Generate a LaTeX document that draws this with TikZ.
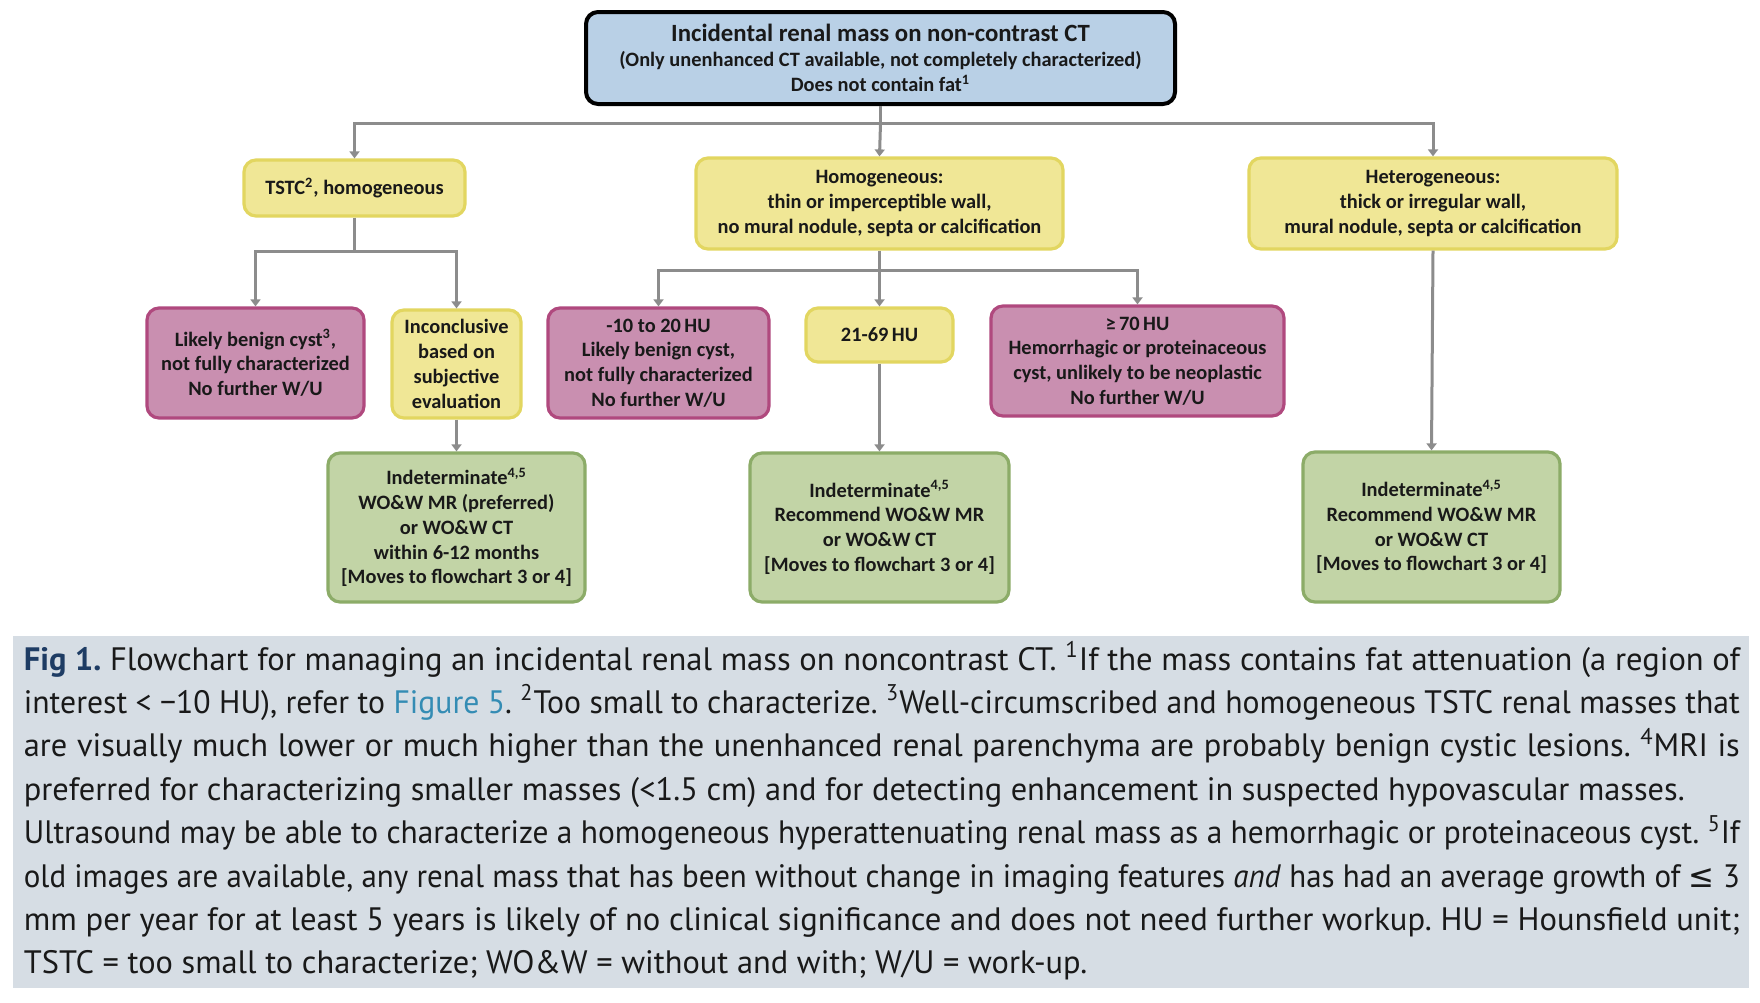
\documentclass[tikz,border=0pt]{standalone}
\usepackage{fontspec}
\usepackage{graphicx}
\setmainfont{Carlito}
\newfontfamily\capfont{PT Sans}
\newfontfamily\symfont{DejaVu Sans}
\usetikzlibrary{arrows.meta}
\definecolor{yfill}{RGB}{240,231,150}
\definecolor{ydraw}{RGB}{226,214,96}
\definecolor{pfill}{RGB}{201,143,176}
\definecolor{pdraw}{RGB}{176,73,126}
\definecolor{gfill}{RGB}{194,212,166}
\definecolor{gdraw}{RGB}{140,172,104}
\definecolor{bfill}{RGB}{185,208,230}
\definecolor{lgrey}{RGB}{140,140,140}
\definecolor{capbg}{RGB}{214,221,228}
\definecolor{navy}{RGB}{30,60,100}
\definecolor{linkblue}{RGB}{52,140,180}
\definecolor{txt}{RGB}{25,25,25}
\newcommand{\capline}[1]{%
  \setbox0\hbox{#1}%
  \ifdim\wd0>850pt
    \pgfmathsetmacro\capr{858pt/\wd0}\scalebox{\capr}[1]{\box0}%
  \else
    \makebox[858pt][s]{#1}%
  \fi}
\tikzset{
  sz/.style 2 args={minimum width=#1*0.5pt, minimum height=#2*0.5pt},
  box/.style={rounded corners=6pt, line width=1.6pt, align=center, text=txt, inner sep=0pt,
    font=\bfseries\fontsize{10.2}{12.4}\selectfont},
  ybox/.style={box, fill=yfill, draw=ydraw},
  pbox/.style={box, fill=pfill, draw=pdraw},
  gbox/.style={box, fill=gfill, draw=gdraw},
  topbox/.style={box, fill=bfill, draw=black, line width=2pt},
  conn/.style={draw=lgrey, line width=1.5pt},
  arr/.style={conn, -{Triangle[width=5pt,length=3.5pt]}},
  capl/.style={anchor=base west, inner sep=0pt, text=txt, font=\capfont\fontsize{16.2}{21.7}\selectfont\frenchspacing},
}
\begin{document}
\begin{tikzpicture}[x=0.5pt, y=-0.5pt]
\useasboundingbox[fill=white] (0,0) rectangle (1760,1002);
% caption background
\fill[capbg] (13,636) rectangle (1749,988);

\node[topbox, sz={589}{92}] (top) at (880.5,58)
  {{\fontsize{12.4}{12.4}\selectfont Incidental renal mass on non-contrast CT}\\
   (Only unenhanced CT available, not completely characterized)\\
   Does not contain fat\textsuperscript{1}};
\node[ybox, sz={221}{56}] (tstc) at (354.5,188) {TSTC\textsuperscript{2}, homogeneous};
\node[ybox, sz={367}{91}] (homog) at (879.5,203.5)
  {Homogeneous:\\thin or imperceptible wall,\\no mural nodule, septa or calcification};
\node[ybox, sz={368}{91}] (hetero) at (1433,203.5)
  {Heterogeneous:\\thick or irregular wall,\\mural nodule, septa or calcification};
\node[pbox, sz={217}{110}] (likely) at (255.5,363)
  {Likely benign cyst\textsuperscript{3},\\not fully characterized\\No further W/U};
\node[ybox, sz={129}{108}] (inconc) at (456.5,364)
  {Inconclusive\\based on\\subjective\\evaluation};
\node[pbox, sz={221}{110}] (m10) at (658.5,363)
  {-10 to 20\,HU\\Likely benign cyst,\\not fully characterized\\No further W/U};
\node[ybox, sz={147}{54}] (h2169) at (879.5,335) {21-69\,HU};
\node[pbox, sz={293}{110}] (g70) at (1137.5,361)
  {≥\,70\,HU\\Hemorrhagic or proteinaceous\\cyst, unlikely to be neoplastic\\No further W/U};
\node[gbox, sz={257}{149}] (ind1) at (456.5,527.5)
  {Indeterminate\textsuperscript{4,5}\\WO\&W MR (preferred)\\or WO\&W CT\\within 6-12 months\\{[}Moves to flowchart 3 or 4{]}};
\node[gbox, sz={259}{149}] (ind2) at (879.5,527.5)
  {Indeterminate\textsuperscript{4,5}\\Recommend WO\&W MR\\or WO\&W CT\\{[}Moves to flowchart 3 or 4{]}};
\node[gbox, sz={257}{150}] (ind3) at (1431.5,527)
  {Indeterminate\textsuperscript{4,5}\\Recommend WO\&W MR\\or WO\&W CT\\{[}Moves to flowchart 3 or 4{]}};

% connectors
\coordinate (j1) at (880.5,123);
\coordinate (j2) at (354.5,251);
\coordinate (j3) at (879.5,270);
\draw[conn] (top.south) -- (j1);
\draw[arr] (j1) -| (tstc.north);
\draw[arr] (j1) -| (hetero.north);
\draw[arr] (j1) -- (homog.north);
\draw[conn] (tstc.south) -- (j2);
\draw[arr] (j2) -| (likely.north);
\draw[arr] (j2) -| (inconc.north);
\draw[conn] (homog.south) -- (j3);
\draw[arr] (j3) -| (m10.north);
\draw[arr] (j3) -| (g70.north);
\draw[arr] (j3) -- (h2169.north);
\draw[arr] (inconc.south) -- (ind1.north);
\draw[arr] (h2169.south) -- (ind2.north);
\draw[arr] (hetero.south) -- (ind3.north);

% caption
\node[capl] (c1) at (23.5,670) {\capline{{\color{navy}\bfseries Fig 1.} Flowchart for managing an incidental renal mass on noncontrast CT. \textsuperscript{1}If the mass contains fat attenuation (a region of}};
\node[capl] (c2) at (23.5,713.4) {\capline{interest < −10 HU), refer to {\color{linkblue}Figure 5}. \textsuperscript{2}Too small to characterize. \textsuperscript{3}Well-circumscribed and homogeneous TSTC renal masses that}};
\node[capl] (c3) at (23.5,756.8) {\capline{are visually much lower or much higher than the unenhanced renal parenchyma are probably benign cystic lesions. \textsuperscript{4}MRI is}};
\node[capl] (c4) at (23.5,800.2) {preferred for characterizing smaller masses (<1.5 cm) and for detecting enhancement in suspected hypovascular masses.};
\node[capl] (c5) at (23.5,843.6) {\capline{Ultrasound may be able to characterize a homogeneous hyperattenuating renal mass as a hemorrhagic or proteinaceous cyst. \textsuperscript{5}If}};
\node[capl] (c6) at (23.5,887) {\capline{old images are available, any renal mass that has been without change in imaging features \emph{and} has had an average growth of {\symfont ≤} 3}};
\node[capl] (c7) at (23.5,930.4) {\capline{mm per year for at least 5 years is likely of no clinical significance and does not need further workup. HU = Hounsfield unit;}};
\node[capl] (c8) at (23.5,973.8) {TSTC = too small to characterize; WO\&W = without and with; W/U = work-up.};
\end{tikzpicture}
\end{document}
